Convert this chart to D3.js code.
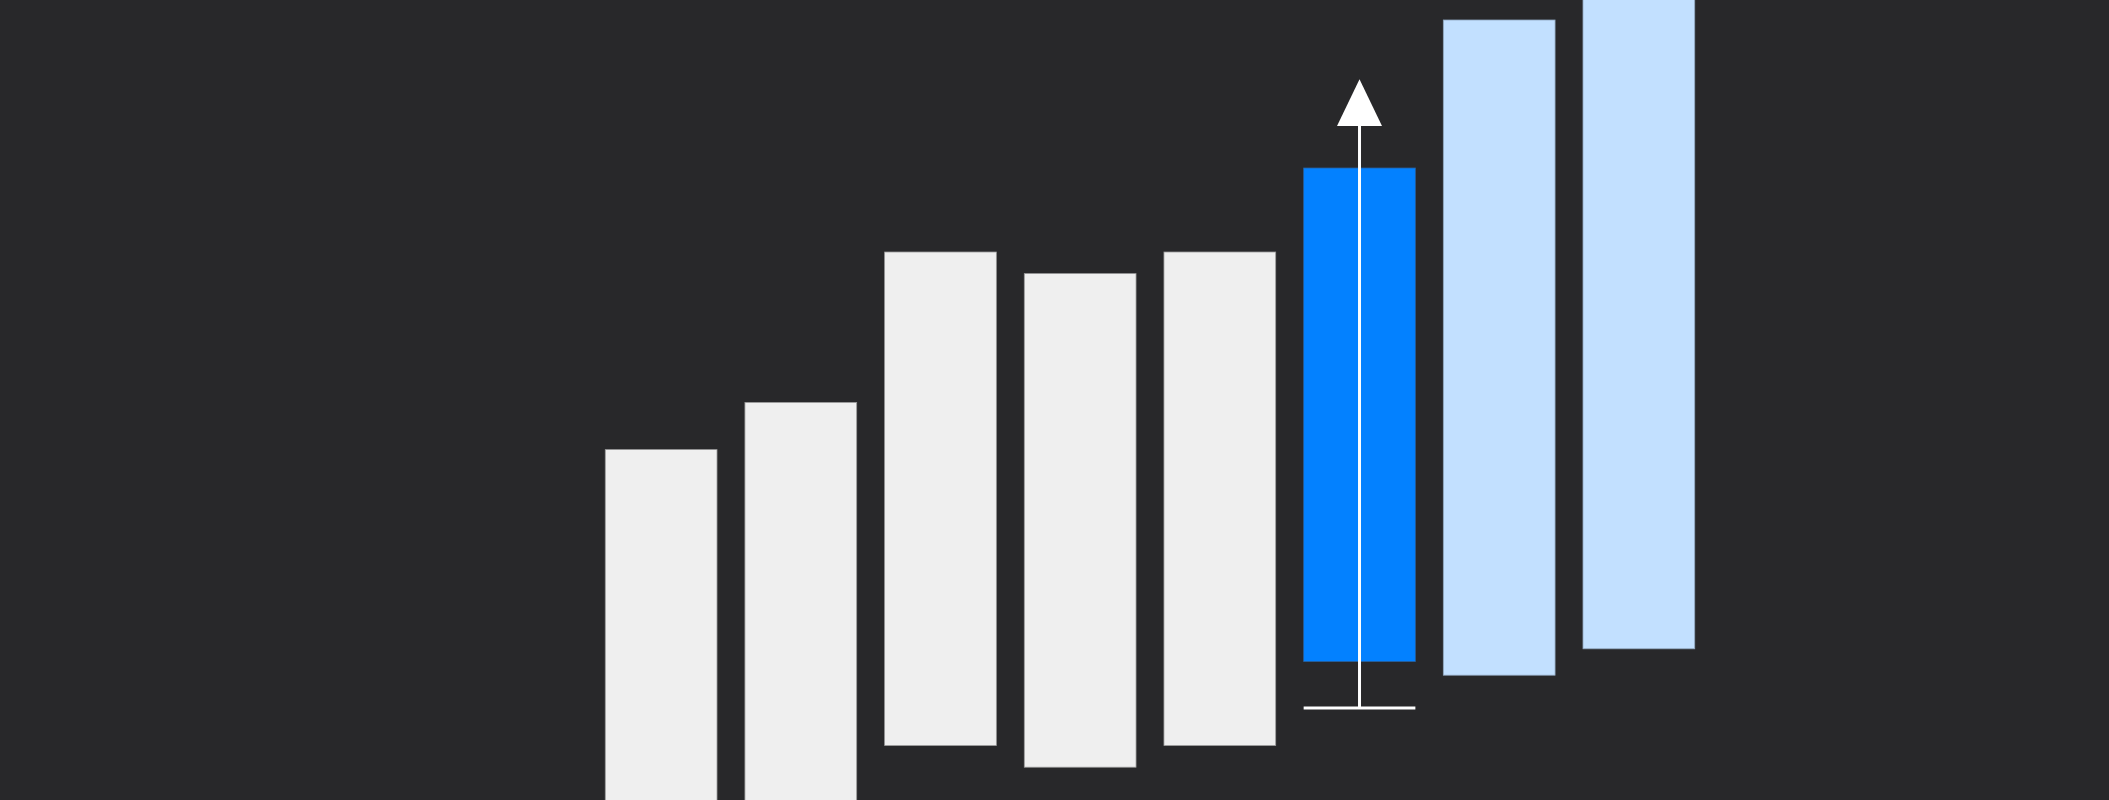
<!DOCTYPE html>
<html>
<head>
<meta charset="utf-8">
<script src="https://cdn.jsdelivr.net/npm/d3@7"></script>
<style>
  html, body { margin: 0; padding: 0; background: #28282a; overflow: hidden; }
  svg { display: block; }
</style>
</head>
<body>
<svg id="chart" width="2109" height="800"></svg>
<script>
// ---- data ----
const categories = ["P1", "P2", "P3", "P4", "P5", "Now", "F1", "F2"];
const lowValues  = [-17.8, -11.9, 6.8, 4.1, 6.8, 17.3, 15.6, 18.9];
const highValues = [43.8, 49.7, 68.5, 65.8, 68.5, 79.0, 97.5, 103.0];
const kinds      = ["past", "past", "past", "past", "past", "current", "future", "future"];
const arrowCategory = "Now";
const arrowFrom = 11.5;   // baseline tick value
const arrowBase = 84.25;  // where the arrow head starts
const arrowTip  = 90.1;   // tip of the arrow head

// ---- styles ----
const W = 2109, H = 800;
const fills = { past: "#efefef", current: "#0381ff", future: "#c2e0ff" };
const strokes = { past: "#9a9a9a", current: "#2a5f99", future: "#8fa6bd" };

const svg = d3.select("#chart");
svg.append("rect").attr("width", W).attr("height", H).attr("fill", "#28282a");

const x = d3.scaleBand()
  .domain(categories)
  .range([591.3, 1708.7])
  .paddingInner(0.2)
  .paddingOuter(0.1);

const y = d3.scaleLinear().domain([0, 100]).range([H, 0]);

const data = categories.map((c, i) => ({ c, lo: lowValues[i], hi: highValues[i], k: kinds[i] }));

svg.append("g").selectAll("rect")
  .data(data)
  .join("rect")
  .attr("x", d => x(d.c))
  .attr("width", x.bandwidth())
  .attr("y", d => y(d.hi))
  .attr("height", d => y(d.lo) - y(d.hi))
  .attr("fill", d => fills[d.k])
  .attr("stroke", d => strokes[d.k])
  .attr("stroke-width", 0.8);

// arrow on the current bar
const cx = x(arrowCategory) + x.bandwidth() / 2;
const g = svg.append("g");
g.append("line")
  .attr("x1", x(arrowCategory)).attr("x2", x(arrowCategory) + x.bandwidth())
  .attr("y1", y(arrowFrom)).attr("y2", y(arrowFrom))
  .attr("stroke", "#ffffff").attr("stroke-width", 3.2);
g.append("line")
  .attr("x1", cx).attr("x2", cx)
  .attr("y1", y(arrowFrom)).attr("y2", y(arrowBase))
  .attr("stroke", "#ffffff").attr("stroke-width", 3);
const hw = 22.5;
g.append("path")
  .attr("d", `M${cx - hw},${y(arrowBase)} L${cx},${y(arrowTip)} L${cx + hw},${y(arrowBase)} Z`)
  .attr("fill", "#ffffff");
</script>
</body>
</html>
